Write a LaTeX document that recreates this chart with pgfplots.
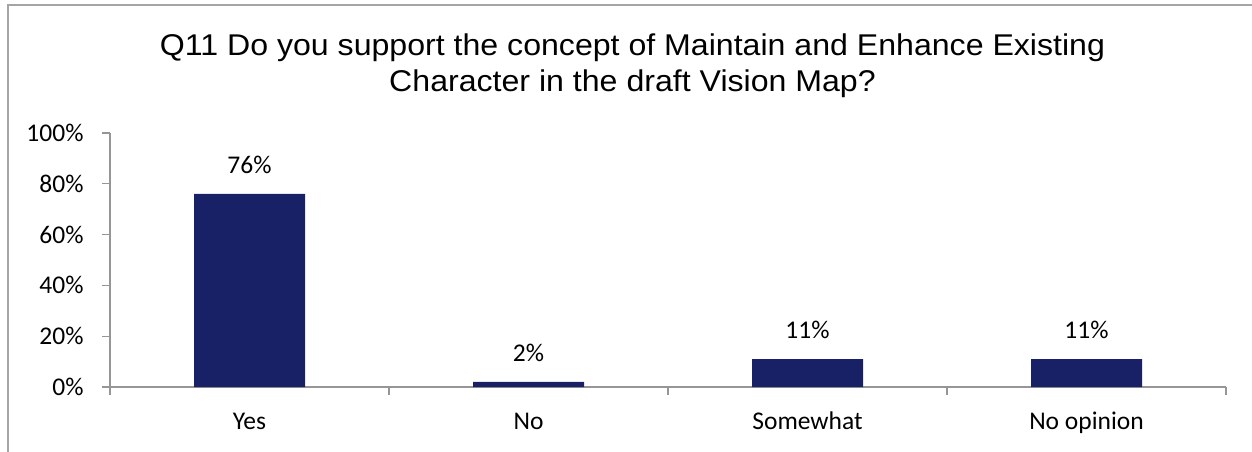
\documentclass[border=0pt]{standalone}
\usepackage{fontspec}
\setmainfont{Carlito}
\newfontfamily\titlefont[FakeStretch=1.07]{Liberation Sans}
\usepackage{pgfplots}
\pgfplotsset{compat=1.18}
\definecolor{barblue}{RGB}{24,32,102}
\definecolor{axisgray}{RGB}{150,150,150}
\definecolor{framegray}{RGB}{165,165,165}
\begin{document}
\begin{tikzpicture}
\useasboundingbox (0,0) rectangle (1252bp,452bp);
\draw[framegray, line width=2bp] (8bp,-10bp) -- (8bp,447bp) -- (1270bp,447bp);
\node[anchor=base, font=\fontsize{30bp}{36bp}\selectfont\titlefont, inner sep=0pt] at (632.5bp,396bp)
  {Q11 Do you support the concept of Maintain and Enhance Existing};
\node[anchor=base, font=\fontsize{30bp}{36bp}\selectfont\titlefont, inner sep=0pt] at (632.5bp,360bp)
  {Character in the draft Vision Map?};
\begin{axis}[
  at={(110bp,65bp)}, anchor=south west,
  scale only axis, width=1116bp, height=254bp,
  xmin=-0.5, xmax=3.5, ymin=0, ymax=100,
  enlargelimits=false,
  axis x line*=bottom, axis y line*=left,
  axis line style={draw=axisgray, line width=1.2bp},
  tick style={draw=axisgray, line width=1.2bp},
  tick align=outside, major tick length=8bp,
  /pgf/number format/assume math mode=true,
  ticklabel style={font=\fontsize{25.5bp}{30bp}\selectfont},
  ytick={0,20,40,60,80,100},
  yticklabel={\pgfmathprintnumber{\tick}\%},
  yticklabel style={xshift=-15bp},
  xtick={-0.5,0.5,1.5,2.5,3.5},
  xticklabels={},
  extra x ticks={0,1,2,3},
  extra x tick labels={Yes,No,Somewhat,No opinion},
  extra x tick style={major tick length=0pt,
    xticklabel style={yshift=-31.3bp, text height=0.75em, text depth=0.25em}},
  ybar, bar width=111bp, bar shift=0pt,
  nodes near coords={\pgfmathprintnumber{\pgfplotspointmeta}\%},
  nodes near coords style={font=\fontsize{25.5bp}{30bp}\selectfont, text=black, yshift=17bp},
  clip=false,
]
\addplot[fill=barblue, draw=none] coordinates {(0,76) (1,2) (2,11) (3,11)};
\end{axis}
\end{tikzpicture}
\end{document}
